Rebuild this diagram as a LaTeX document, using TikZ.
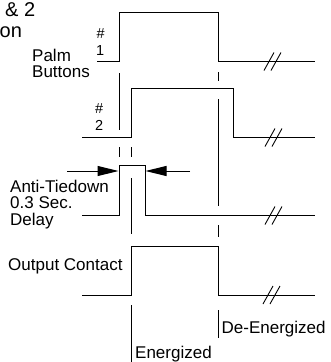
\documentclass[tikz,border=0pt]{standalone}
\usepackage{fontspec}
\setmainfont{Liberation Sans}
\usetikzlibrary{arrows.meta}
\tikzset{
  sig/.style={line width=1pt, line join=miter},
  vmark/.style={line width=1pt},
  lbl/.style={anchor=base west, inner sep=0pt, font=\fontsize{17}{16}\selectfont},
  small/.style={anchor=base west, inner sep=0pt, font=\fontsize{14.5}{17}\selectfont},
  title/.style={anchor=base west, inner sep=0pt, font=\fontsize{20}{20}\selectfont},
  brk/.style={line width=0.9pt},
  arr/.style={line width=1pt, -{Triangle[length=21pt,width=10pt]}}
}
\newcommand{\breakmark}[2]{%
  \draw[brk] (#1,#2+9) -- (#1+10,#2-9);
  \draw[brk] (#1+7,#2+9) -- (#1+17,#2-9);}
\begin{document}
\begin{tikzpicture}[x=1pt,y=-1pt]
\useasboundingbox (0,0) rectangle (330,362);
% title fragments
\node[title] (t1) at (5,16) {\& 2};
\node[title] (t2) at (-0.5,37) {on};
% labels
\node[small] (h1) at (96.5,38) {\#};
\node[small] (n1) at (96,55) {1};
\node[small] (h2) at (95,113) {\#};
\node[small] (n2) at (95,130) {2};
\node[lbl] (pa) at (32,61) {Palm};
\node[lbl] (bu) at (32,77) {Buttons};
\node[lbl] (at1) at (10,192.5) {Anti-Tiedown};
\node[lbl] (at2) at (10,208.5) {0.3 Sec.};
\node[lbl] (at3) at (10,225) {Delay};
\node[lbl] (oc) at (8,270) {Output Contact};
\node[lbl] (de) at (221.5,333.5) {De-Energized};
\node[lbl] (en) at (135,358) {Energized};
% signals
\draw[sig] (97,61.5) -- (119,61.5) -- (119,12) -- (218,12) -- (218,61.5) -- (315,61.5);
\draw[sig] (82,137.5) -- (131.5,137.5) -- (131.5,88) -- (233,88) -- (233,137.5) -- (315,137.5);
\draw[sig] (82,215.5) -- (119,215.5) -- (119,165.5) -- (145,165.5) -- (145,215.5) -- (315,215.5);
\draw[sig] (82,295) -- (131.5,295) -- (131.5,246) -- (218,246) -- (218,295) -- (315,295);
% break marks
\breakmark{264}{61.5}
\breakmark{265}{137.5}
\breakmark{265}{215.5}
\breakmark{263}{295}
% marker lines
\draw[vmark] (119,73) -- (119,130);
\draw[vmark] (119,147) -- (119,157);
\draw[vmark] (131.5,147) -- (131.5,157);
\draw[vmark] (131.5,178) -- (131.5,234);
\draw[vmark] (218,72) -- (218,81);
\draw[vmark] (218,99) -- (218,206);
\draw[vmark] (218,225) -- (218,237);
\draw[vmark] (218,310) -- (218,338);
\draw[vmark] (131.5,305) -- (131.5,362);
% arrows
\draw[arr] (67,171) -- (118.5,171);
\draw[arr] (190,171) -- (145.5,171);
\end{tikzpicture}
\end{document}
